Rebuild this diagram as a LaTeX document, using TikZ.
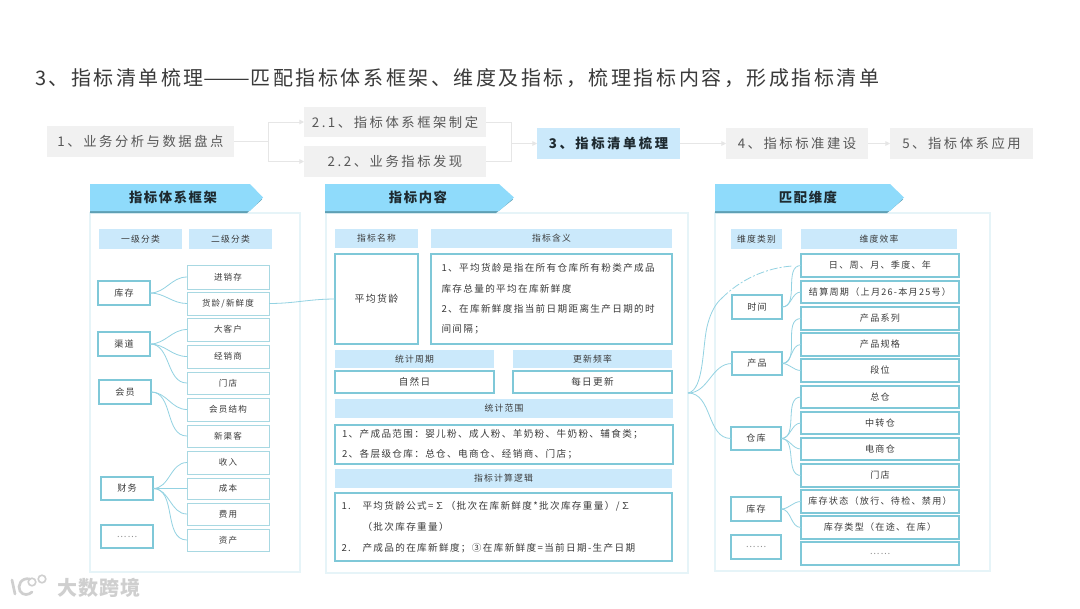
\documentclass[tikz,border=0pt]{standalone}
\usepackage{fontspec}
\setmainfont{Noto Sans CJK SC}
\newfontfamily\ttlf[LetterSpace=12.7]{Noto Sans CJK SC}
\newfontfamily\procf[LetterSpace=19]{Noto Sans CJK SC}
\newfontfamily\bodyf[LetterSpace=14]{Noto Sans CJK SC}
\newfontfamily\banf[LetterSpace=12]{Noto Sans CJK SC}
\newfontfamily\wmkf[LetterSpace=6]{Noto Sans CJK SC}
\usetikzlibrary{arrows.meta}
\definecolor{txt}{HTML}{3A3A3A}
\definecolor{txtd}{HTML}{1E2A30}
\definecolor{hdr}{HTML}{CBE9FB}
\definecolor{ban}{HTML}{8FDBFB}
\definecolor{banshadow}{HTML}{5E9FB4}
\definecolor{panelc}{HTML}{E6F4F8}
\definecolor{edgec}{HTML}{7FC8D8}
\definecolor{edgel}{HTML}{A8D8E2}
\definecolor{linkc}{HTML}{93D2E2}
\definecolor{procg}{HTML}{F1F1F1}
\definecolor{procl}{HTML}{E6E6E6}
\definecolor{wmk}{HTML}{CFCFCF}
\tikzset{
 x=0.75pt,y=-0.75pt,
 every node/.style={inner sep=0pt,outer sep=0pt,text=txt},
 panelbox/.style={draw=panelc,line width=0.8pt},
 procbox/.style={fill=procg,font=\procf\fontsize{10}{12}\selectfont,text=txt!85!white},
 procnow/.style={fill=hdr,font=\procf\bfseries\fontsize{10}{12}\selectfont,text=txtd},
 hdrbox/.style={fill=hdr,font=\bodyf\fontsize{6.6}{8}\selectfont},
 cellbox/.style={draw=edgec,line width=0.85pt,fill=white,font=\bodyf\fontsize{6.8}{8}\selectfont},
 thinbox/.style={draw=edgel,line width=0.65pt,fill=white,font=\bodyf\fontsize{6.4}{8}\selectfont},
 bantext/.style={font=\banf\bfseries\fontsize{10}{12}\selectfont,text=txtd},
 banfill/.style={fill=ban},
 banshade/.style={fill=banshadow},
 link/.style={draw=linkc,line width=0.6pt},
 proclink/.style={draw=procl,line width=0.7pt},
 procarrow/.style={proclink,-{Triangle[length=3.5pt,width=3.5pt]}},
 wmktext/.style={font=\wmkf\bfseries\fontsize{15}{18}\selectfont,text=wmk},
 wmkline/.style={draw=wmk,line width=2pt,line cap=round},
 ttltext/.style={font=\ttlf\fontsize{15}{18}\selectfont,text=txt},
}
\newcommand{\bx}[7]{\node[#1,minimum width={(#5-#3)*0.75pt},minimum height={(#6-#4)*0.75pt},align=center] (#2) at ({(#3+#5)/2},{(#4+#6)/2}) {#7};}
\newcommand{\lnk}[2]{\draw[link] (#1.east) to[out=0,in=180] (#2.west);}
\newcommand{\banner}[6]{%
 \fill[banshade] (#1,#4+3) -- (#2,#4+3) -- (#3-1,{(#4+#5)/2+2}) -- (#2-3,#5+2) -- (#1,#5+2) -- cycle;
 \fill[banfill] (#1,#4) -- (#2,#4) -- (#3,{(#4+#5)/2}) -- (#2,#5) -- (#1,#5) -- cycle;
 #6}
\begin{document}
\begin{tikzpicture}
\useasboundingbox (0,0) rectangle (1080,608);
\fill[white] (0,0) rectangle (1080,608);
\node[ttltext,anchor=west] (title) at (35,78) {3、指标清单梳理\scalebox{1.4}[1]{——}匹配指标体系框架、维度及指标，梳理指标内容，形成指标清单};
% process row
\bx{procbox}{p1}{47}{126}{234}{157}{1、业务分析与数据盘点}
\bx{procbox}{p21}{304}{107}{486}{137}{2.1、指标体系框架制定}
\bx{procbox}{p22}{304}{146}{486}{177}{2.2、业务指标发现}
\bx{procnow}{p3}{537}{128}{680}{159}{3、指标清单梳理}
\bx{procbox}{p4}{726}{128}{868}{159}{4、指标标准建设}
\bx{procbox}{p5}{890}{128}{1033}{159}{5、指标体系应用}
\coordinate (js) at (268,141.5);
\coordinate (jm) at (511,143.5);
\draw[proclink] (p1.east) -- (js);
\draw[procarrow] (js) |- (p21.west);
\draw[procarrow] (js) |- (p22.west);
\draw[proclink] (p21.east) -| (jm);
\draw[proclink] (p22.east) -| (jm);
\draw[procarrow] (jm) -- (p3.west);
\draw[procarrow] (p3.east) -- (p4.west);
\draw[procarrow] (p4.east) -- (p5.west);
% panels
\bx{panelbox}{pa}{90}{213}{300}{572}{}
\bx{panelbox}{pb}{326}{213}{688}{573}{}
\bx{panelbox}{pc}{715}{213}{990}{571}{}
% banners
\banner{90}{250}{263}{184}{211}{\node[bantext] (ba) at (173,197) {指标体系框架};}
\banner{325}{499}{514}{184}{211}{\node[bantext] (bb) at (418,197) {指标内容};}
\banner{715}{890}{904}{184}{211}{\node[bantext] (bc) at (808,197) {匹配维度};}
% left panel
\bx{hdrbox}{ha1}{99}{229}{182}{249}{一级分类}
\bx{hdrbox}{ha2}{189}{229}{272}{249}{二级分类}
\bx{cellbox}{a1}{98}{281}{150}{305}{库存}
\bx{cellbox}{a2}{98}{332}{150}{356}{渠道}
\bx{cellbox}{a3}{99}{380}{151}{404}{会员}
\bx{cellbox}{a4}{101}{477}{153}{500}{财务}
\bx{cellbox}{a5}{101}{525}{153}{548}{\textcolor{black!45}{……}}
\bx{thinbox}{b1}{187}{265}{269}{289}{进销存}
\bx{thinbox}{b2}{187}{292}{269}{315}{货龄/新鲜度}
\bx{thinbox}{b3}{187}{318}{269}{341}{大客户}
\bx{thinbox}{b4}{187}{345}{269}{368}{经销商}
\bx{thinbox}{b5}{187}{372}{269}{394}{门店}
\bx{thinbox}{b6}{187}{398}{269}{421}{会员结构}
\bx{thinbox}{b7}{187}{425}{269}{447}{新渠客}
\bx{thinbox}{b8}{187}{451}{269}{474}{收入}
\bx{thinbox}{b9}{187}{478}{269}{499}{成本}
\bx{thinbox}{b10}{187}{503}{269}{525}{费用}
\bx{thinbox}{b11}{187}{529}{269}{551}{资产}
\lnk{a1}{b1}\lnk{a1}{b2}
\lnk{a2}{b3}\lnk{a2}{b4}\lnk{a2}{b5}
\lnk{a3}{b6}\lnk{a3}{b7}
\lnk{a4}{b8}\lnk{a4}{b9}\lnk{a4}{b10}\lnk{a4}{b11}
% middle panel
\bx{hdrbox}{hm1}{335}{229}{418}{248}{指标名称}
\bx{hdrbox}{hm2}{431}{229}{672}{248}{指标含义}
\bx{cellbox,font=\bodyf\fontsize{7.4}{9}\selectfont}{m1}{335}{254}{418}{344}{平均货龄}
\node[cellbox,minimum width=180.75pt,minimum height=67.5pt,text width=165pt,inner xsep=7.5pt,align=left,font=\bodyf\fontsize{7.2}{15.2}\selectfont] (m2) at (551.5,299) {1、平均货龄是指在所有仓库所有粉类产成品\\库存总量的平均在库新鲜度\\2、在库新鲜度指当前日期距离生产日期的时\\间间隔；};
\bx{hdrbox}{hm3}{335}{350}{494}{368}{统计周期}
\bx{hdrbox}{hm4}{513}{350}{672}{368}{更新频率}
\bx{cellbox,font=\bodyf\fontsize{7.2}{9}\selectfont}{m3}{335}{371}{494}{393}{自然日}
\bx{cellbox,font=\bodyf\fontsize{7.2}{9}\selectfont}{m4}{513}{371}{672}{393}{每日更新}
\bx{hdrbox}{hm5}{335}{399}{673}{418}{统计范围}
\node[cellbox,minimum width=253.5pt,minimum height=29.25pt,text width=243pt,align=left,font=\bodyf\fontsize{7.2}{15}\selectfont] (m5) at (504,444.5) {1、产成品范围：婴儿粉、成人粉、羊奶粉、牛奶粉、辅食类；\\2、各层级仓库：总仓、电商仓、经销商、门店；};
\bx{hdrbox}{hm6}{335}{469}{672}{488}{指标计算逻辑}
\node[cellbox,minimum width=252.75pt,minimum height=51pt,text width=243pt,align=left,font=\bodyf\fontsize{7.2}{15.8}\selectfont] (m6) at (503.5,527) {\makebox[15.75pt][l]{1.}平均货龄公式=∑（批次在库新鲜度*批次库存重量）/∑\\\hspace*{15.75pt}（批次库存重量）\\\makebox[15.75pt][l]{2.}产成品的在库新鲜度；③在库新鲜度=当前日期-生产日期};
\lnk{b2}{m1}
% right panel
\bx{hdrbox}{hr1}{731}{229}{782}{249}{维度类别}
\bx{hdrbox}{hr2}{801}{229}{957}{249}{维度效率}
\bx{cellbox}{r1}{732}{295}{782}{319}{时间}
\bx{cellbox}{r2}{732}{352}{782}{375}{产品}
\bx{cellbox}{r3}{731}{427}{781}{450}{仓库}
\bx{cellbox}{r4}{731}{497}{781}{521}{库存}
\bx{cellbox}{r5}{731}{535}{781}{559}{\textcolor{black!45}{……}}
\bx{cellbox}{s1}{801}{254}{959}{277}{日、周、月、季度、年}
\bx{cellbox}{s2}{801}{281}{959}{303}{结算周期（上月26-本月25号）}
\bx{cellbox}{s3}{801}{307}{959}{330}{产品系列}
\bx{cellbox}{s4}{801}{333}{959}{356}{产品规格}
\bx{cellbox}{s5}{801}{359}{959}{382}{段位}
\bx{cellbox}{s6}{801}{386}{959}{408}{总仓}
\bx{cellbox}{s7}{801}{412}{959}{434}{中转仓}
\bx{cellbox}{s8}{801}{438}{959}{460}{电商仓}
\bx{cellbox}{s9}{801}{464}{959}{487}{门店}
\bx{cellbox}{s10}{801}{490}{959}{513}{库存状态（放行、待检、禁用）}
\bx{cellbox}{s11}{801}{516}{959}{539}{库存类型（在途、在库）}
\bx{cellbox}{s12}{801}{542}{959}{565}{\textcolor{black!45}{……}}
\lnk{r1}{s1}\lnk{r1}{s2}
\lnk{r2}{s3}\lnk{r2}{s4}\lnk{r2}{s5}
\lnk{r3}{s6}\lnk{r3}{s7}\lnk{r3}{s8}\lnk{r3}{s9}
\lnk{r4}{s10}\lnk{r4}{s11}
\coordinate (hub) at (688,393);
\coordinate (hubm) at (722,298);
\coordinate (hube) at (792,266);
\draw[link] (hub) to[out=0,in=180] (r2.west);
\draw[link] (hub) to[out=0,in=180] (r3.west);
\draw[link] (hub) .. controls (705,390) and (702,342) .. (708,323) .. controls (711,312) and (716,303) .. (hubm);
\draw[link,dash pattern=on 6pt off 1.5pt on 1.5pt off 1.5pt] (hubm) .. controls (740,280) and (765,268) .. (hube);
% watermark
\draw[wmkline] (12,580) -- (15,594);
\draw[wmkline] (30,579) .. controls (21,577) and (17,586) .. (20,591) .. controls (23,596) and (29,595) .. (32,592);
\draw[wmk,line width=1.2pt] (32,582) circle[radius=3.8];
\draw[wmk,line width=1.2pt] (42,579) circle[radius=3.8];
\node[wmktext,anchor=west] (wm) at (57,588) {大数跨境};
\end{tikzpicture}
\end{document}
